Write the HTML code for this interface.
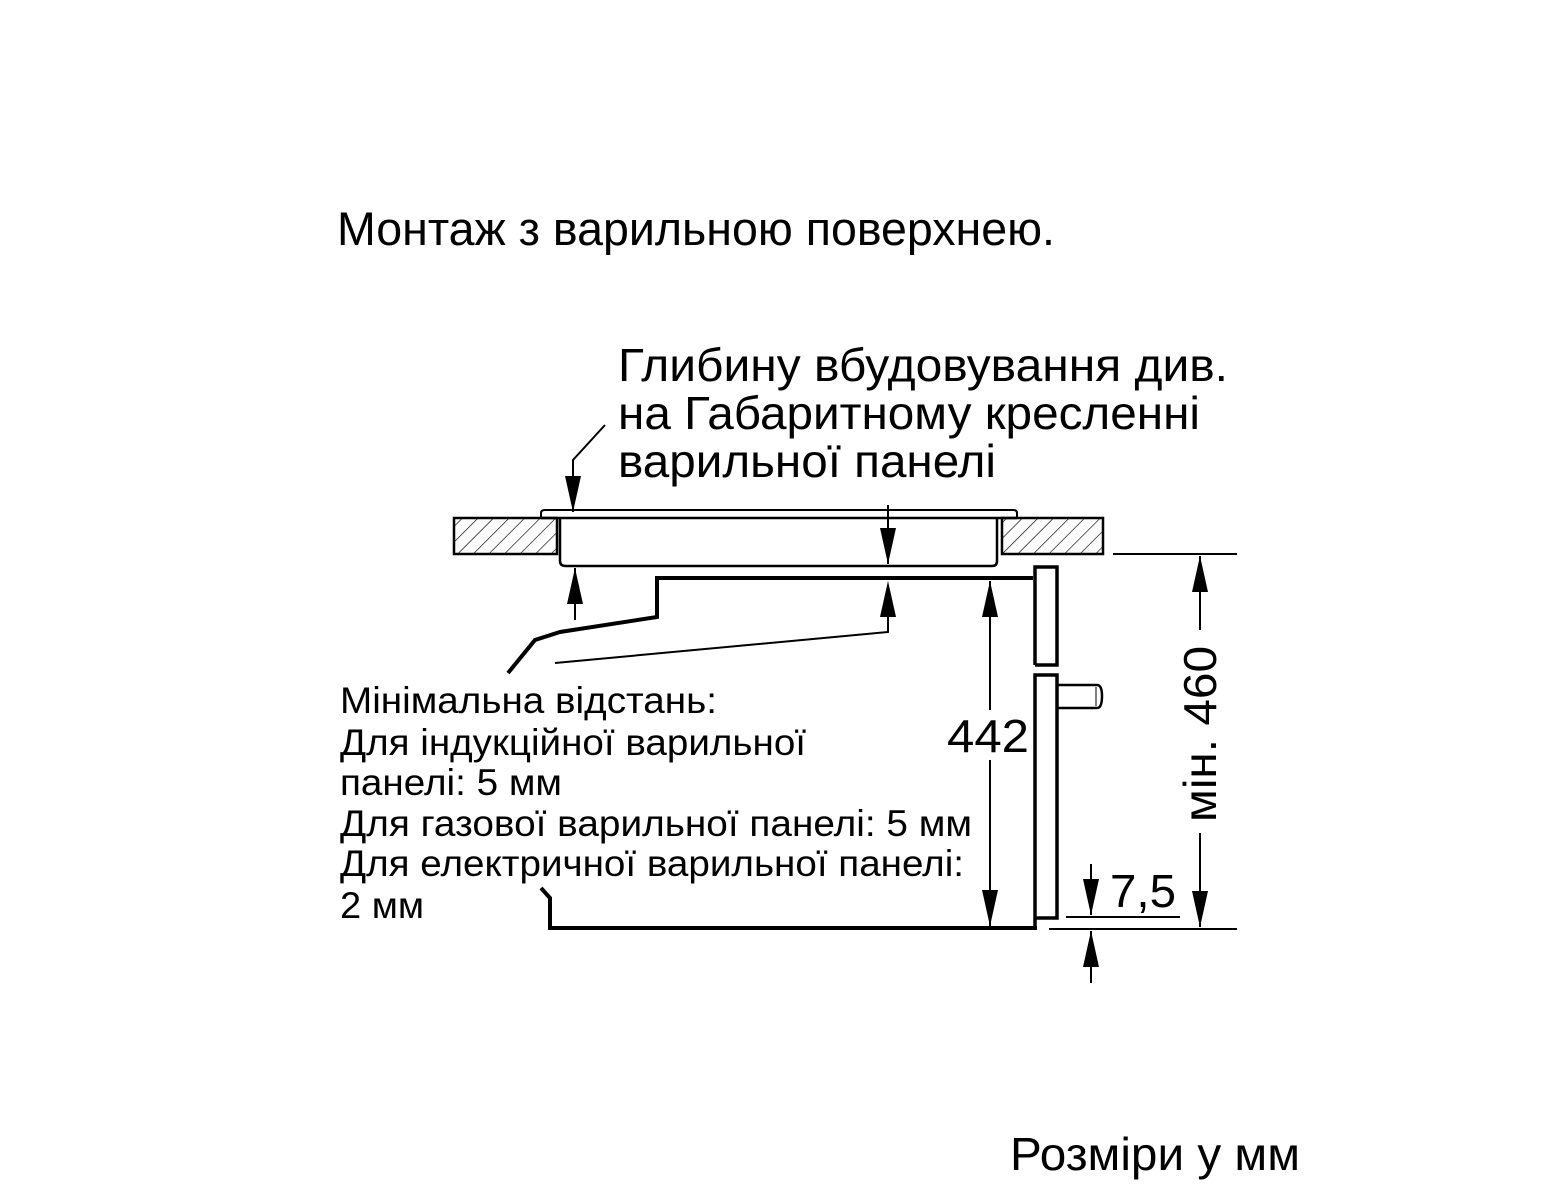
<!DOCTYPE html>
<html><head><meta charset="utf-8"><style>
html,body{margin:0;padding:0;background:#fff;}
svg{display:block;}
text{font-family:"Liberation Sans",Arial,sans-serif;fill:#000;}
</style></head><body>
<svg width="1550" height="1201" viewBox="0 0 1550 1201" xmlns="http://www.w3.org/2000/svg">
<defs>
<pattern id="h" patternUnits="userSpaceOnUse" width="11" height="11" patternTransform="rotate(45)">
<line x1="0" y1="0" x2="0" y2="11" stroke="#000" stroke-width="1.3"/>
</pattern>
<marker id="b" viewBox="0 0 10 10" refX="10" refY="5" markerWidth="36" markerHeight="16" markerUnits="userSpaceOnUse" orient="auto" preserveAspectRatio="none"><path d="M0,0 L10,5 L0,10 z" fill="#000"/></marker>
</defs>
<text x="337" y="245" font-size="47" textLength="718" lengthAdjust="spacingAndGlyphs">Монтаж з варильною поверхнею.</text>
<text x="618" y="381" font-size="46" textLength="610" lengthAdjust="spacingAndGlyphs">Глибину вбудовування див.</text>
<text x="618" y="429" font-size="46" textLength="582" lengthAdjust="spacingAndGlyphs">на Габаритному кресленні</text>
<text x="618" y="477" font-size="46" textLength="378" lengthAdjust="spacingAndGlyphs">варильної панелі</text>

<g font-size="37">
<text x="340" y="713" textLength="377" lengthAdjust="spacingAndGlyphs">Мінімальна відстань:</text>
<text x="340" y="755" textLength="466" lengthAdjust="spacingAndGlyphs">Для індукційної варильної</text>
<text x="340" y="795" textLength="222" lengthAdjust="spacingAndGlyphs">панелі: 5 мм</text>
<text x="340" y="836" textLength="632" lengthAdjust="spacingAndGlyphs">Для газової варильної панелі: 5 мм</text>
<text x="340" y="876" textLength="624" lengthAdjust="spacingAndGlyphs">Для електричної варильної панелі:</text>
<text x="340" y="918" textLength="84" lengthAdjust="spacingAndGlyphs">2 мм</text>
</g>
<text x="1010" y="1170" font-size="46" textLength="290" lengthAdjust="spacingAndGlyphs">Розміри у мм</text>

<g stroke="#000" fill="none">
<rect x="454" y="518" width="103" height="36" fill="url(#h)" stroke-width="2.5"/>
<rect x="1002" y="518" width="101" height="36" fill="url(#h)" stroke-width="2.5"/>
<path d="M541,518 L541,513 Q541,510 545,510 L1013,510 Q1017,510 1017,513 L1017,518" stroke-width="2"/>
<line x1="541" y1="518" x2="1017" y2="518" stroke-width="2.5"/>
<path d="M560,518 L560,561 Q560,566 566,566 L992,566 Q997,566 997,561 L997,518" stroke-width="2.5"/>
<path d="M1033,578 L657,578 L657,617 L560,632 L535,640 L508,673" stroke-width="4"/>
<path d="M555,663 L888,632 L888,588" stroke-width="2"/>
<path d="M605,425 L573,460 L573,512" stroke-width="2" marker-end="url(#b)"/>
<line x1="888" y1="505" x2="888" y2="564" stroke-width="2" marker-end="url(#b)"/>
<line x1="575" y1="620" x2="575" y2="568" stroke-width="2" marker-end="url(#b)"/>
<line x1="888" y1="630" x2="888" y2="581" stroke-width="0.1" marker-end="url(#b)"/>
<path d="M1035,665 L1035,567 L1057,567 L1057,665 L1035,665" stroke-width="3.5"/>
<path d="M1035,928 L1035,675 L1057,675 L1057,918 L1035,918" stroke-width="3.5"/>
<path d="M1057,685 L1097,685 Q1102,685 1102,696 Q1102,708 1097,708 L1057,708" stroke-width="2.5"/>
<line x1="1096" y1="687" x2="1096" y2="706" stroke-width="1"/>
<path d="M541,888 L550,898 L550,928 L1037,928" stroke-width="4"/>
<line x1="990" y1="710" x2="990" y2="581" stroke-width="2" marker-end="url(#b)"/>
<line x1="990" y1="760" x2="990" y2="926" stroke-width="2" marker-end="url(#b)"/>
<line x1="1113" y1="554" x2="1237" y2="554" stroke-width="2"/>
<line x1="1049" y1="929" x2="1237" y2="929" stroke-width="2"/>
<line x1="1200" y1="630" x2="1200" y2="556" stroke-width="2" marker-end="url(#b)"/>
<line x1="1200" y1="833" x2="1200" y2="927" stroke-width="2" marker-end="url(#b)"/>
<line x1="1066" y1="917" x2="1180" y2="917" stroke-width="2"/>
<line x1="1091" y1="864" x2="1091" y2="915" stroke-width="2" marker-end="url(#b)"/>
<line x1="1091" y1="983" x2="1091" y2="931" stroke-width="2" marker-end="url(#b)"/>
</g>
<rect x="975" y="712" width="30" height="48" fill="#fff"/>
<text x="947" y="752" font-size="46" textLength="82" lengthAdjust="spacingAndGlyphs">442</text>
<text x="1110" y="907" font-size="46" textLength="66" lengthAdjust="spacingAndGlyphs">7,5</text>
<text transform="translate(1216,822) rotate(-90)" font-size="46" textLength="176" lengthAdjust="spacingAndGlyphs">мін. 460</text>
</svg>
</body></html>
